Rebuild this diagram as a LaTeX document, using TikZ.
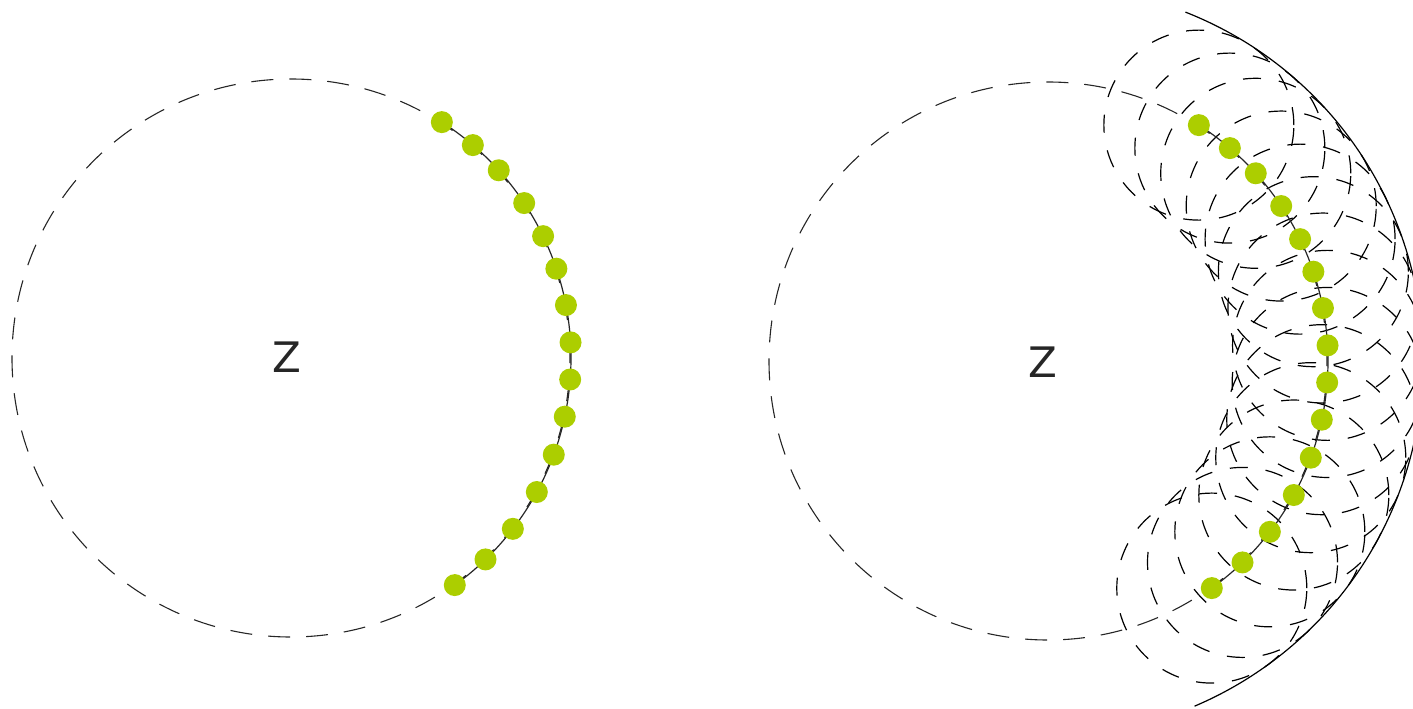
\documentclass[tikz,border=0pt]{standalone}
\usepackage{fontspec}
\usetikzlibrary{calc}
\newfontfamily\zfont{DejaVu Sans}
\definecolor{dotgreen}{RGB}{172,206,0}
\begin{document}
\begin{tikzpicture}[x=0.5pt,y=0.5pt,
  bigc/.style={draw=black!85,line width=0.55pt,dash pattern=on 11pt off 8pt},
  smallc/.style={draw=black,line width=0.6pt,dash pattern=on 9pt off 9pt},
  envelope/.style={draw=black,line width=0.6pt},
  link/.style={draw=black!85,line width=0.6pt},
  dot/.style={circle,fill=dotgreen,inner sep=0pt,minimum size=11pt},
  zlabel/.style={font=\zfont\fontsize{21}{24}\selectfont,text=black!85}]
\useasboundingbox (0,0) rectangle (1413,708);
\coordinate (lc) at (291,350);
\coordinate (rc) at (1048,347);
% big dashed circles
\draw[bigc] (lc) circle (279);
\draw[bigc] (rc) circle (279);
% dot positions
\foreach \a [count=\i from 0] in {57.4,49.5,42.1,33.6,25.8,18.6,10.9,3.2,-4.4,-12.1,-20.2,-28.6,-37.6,-46.0,-54.2}{
  \coordinate (L\i) at ($(lc)+(\a:280)$);
  \coordinate (R\i) at ($(rc)+(\a:280)$);
}
% small dashed circles around right dots
\foreach \i in {0,...,14}{
  \draw[smallc] (R\i) circle (95);
}
% solid arcs through the dots
\draw[link] (L0) arc (57.4:-54.2:280);
\draw[link] (R0) arc (57.4:-54.2:280);
% outer envelope
\draw[envelope] (rc) ++(68.5:375) arc (68.5:-67:375);
% dots
\foreach \i in {0,...,14}{
  \node[dot] (DL\i) at (L\i) {};
  \node[dot] (DR\i) at (R\i) {};
}
\node[zlabel] (zl) at (287,351) {Z};
\node[zlabel] (zr) at (1043,346) {Z};
\end{tikzpicture}
\end{document}
